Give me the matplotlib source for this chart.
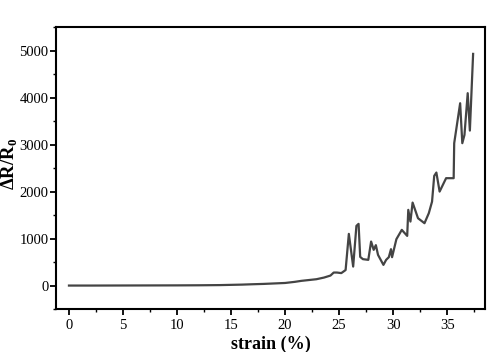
import matplotlib
matplotlib.use("Agg")
from matplotlib import pyplot as plt
from matplotlib.ticker import MultipleLocator

plt.rcParams['font.family'] = ['Liberation Serif', 'DejaVu Serif']
plt.rcParams['mathtext.fontset'] = 'custom'
plt.rcParams['mathtext.rm'] = 'Liberation Serif'
plt.rcParams['mathtext.bf'] = 'Liberation Serif:bold'

# strain (%) and relative resistance change
strain = [0, 2, 4, 6, 8, 10, 12, 14, 15, 16, 17, 18, 19, 20, 20.9, 21.5, 22.3,
          22.9, 23.6, 24.2, 24.5, 24.8, 25.2, 25.6, 25.9, 26.3, 26.6, 26.8,
          26.95, 27.2, 27.7, 27.96, 28.2, 28.4, 28.6, 29.1, 29.35, 29.6, 29.8,
          29.9, 30.3, 30.8, 31.3, 31.4, 31.6, 31.8, 32.3, 32.9, 33.3, 33.6,
          33.8, 34.0, 34.3, 34.9, 35.6, 35.65, 36.2, 36.4, 36.6, 36.9, 37.1,
          37.4]
resistance = [0, 0, 1, 2, 3, 4, 6, 10, 15, 20, 28, 35, 45, 55, 79, 100, 120,
              135, 170, 213, 277, 277, 265, 330, 1100, 404, 1270, 1313,
              610, 562, 547, 937, 760, 860, 653, 440, 547, 604, 774,
              604, 987, 1185, 1057, 1611, 1362, 1766, 1433, 1327, 1540, 1787,
              2334, 2405, 2000, 2285, 2285, 3030, 3880, 3030, 3206, 4094, 3298,
              4930]


def main():
    fig = plt.figure(figsize=(5, 3.52), dpi=100)
    ax = fig.add_axes([0.112, 0.122, 0.858, 0.801])
    ax.plot(strain, resistance, color='#444444', lw=1.6)

    ax.set_xlim(-1.2, 38.5)
    ax.set_ylim(-500, 5500)
    ax.xaxis.set_major_locator(MultipleLocator(5))
    ax.xaxis.set_minor_locator(MultipleLocator(2.5))
    ax.yaxis.set_major_locator(MultipleLocator(1000))
    ax.yaxis.set_minor_locator(MultipleLocator(500))
    ax.tick_params(which='major', direction='out', length=4, width=1.3,
                   labelsize=10.5, top=False, right=False)
    ax.tick_params(which='minor', direction='out', length=2.5, width=1.0,
                   top=False, right=False)
    ax.tick_params(axis='y', which='major', pad=1.5)
    for s in ax.spines.values():
        s.set_linewidth(1.5)

    ax.set_xlabel('strain (%)', fontsize=13, fontweight='bold', labelpad=2)
    ax.set_ylabel(r'ΔR/R$_\mathbf{0}$', fontsize=13.5, fontweight='bold')
    ax.yaxis.set_label_coords(-0.084, 0.515)
    fig.savefig('out.png', dpi=100)


if __name__ == '__main__':
    main()
